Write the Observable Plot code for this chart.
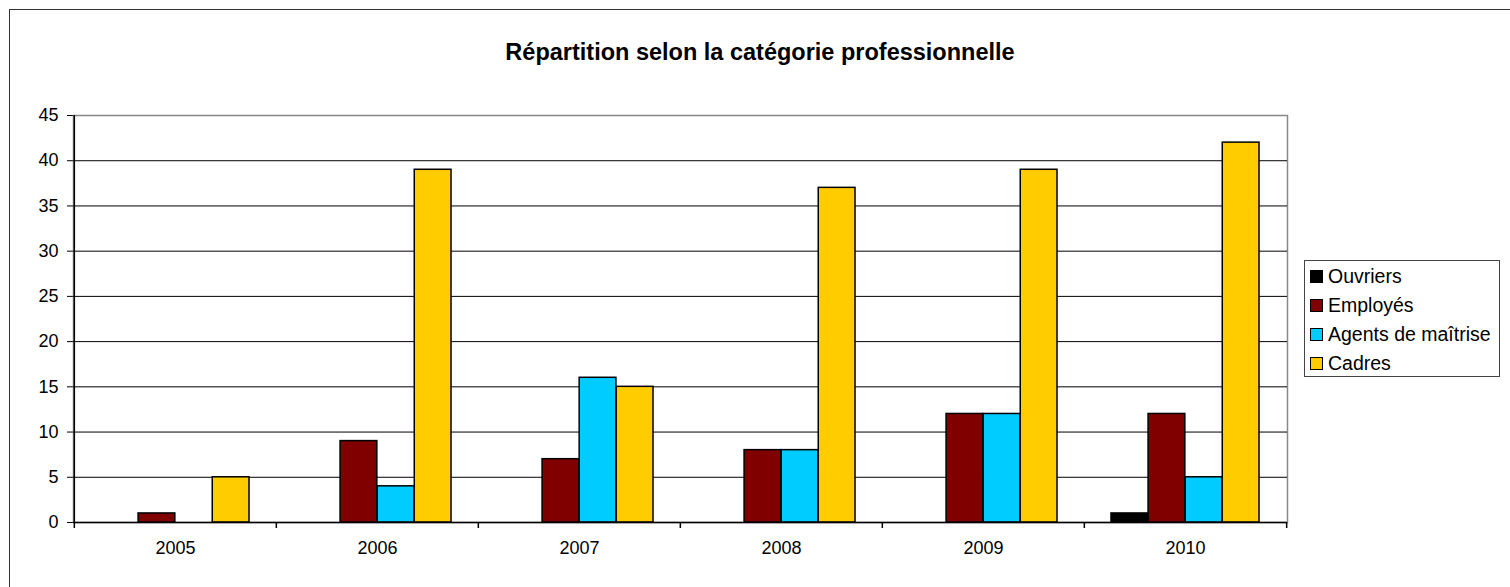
<!DOCTYPE html>
<html><head><meta charset="utf-8">
<script src="https://cdn.jsdelivr.net/npm/d3@7"></script>
<script src="https://cdn.jsdelivr.net/npm/@observablehq/plot@0.6"></script>
<style>
body{margin:0;background:#fff;font-family:"Liberation Sans",Arial,sans-serif;}
#wrap{position:relative;width:1510px;height:587px;overflow:hidden;background:#fff;}
#border{position:absolute;left:9px;top:9px;width:1600px;height:700px;border:1.5px solid #333;box-sizing:border-box;}
#title{position:absolute;left:10px;top:39px;width:1500px;text-align:center;font-weight:bold;font-size:23.5px;color:#000;}
#chart{position:absolute;left:0;top:0;}
#legend{position:absolute;left:1304px;top:260px;width:196px;height:117px;border:1px solid #444;box-sizing:border-box;padding-top:1px;}
.item{display:flex;align-items:center;height:29px;font-size:19.5px;color:#000;padding-left:5px;}
.sw{width:13px;height:13px;border:1.5px solid #000;margin-right:5px;box-sizing:border-box;}
</style></head>
<body>
<div id="wrap">
  <div id="border"></div>
  <div id="title"></div>
  <div id="chart"></div>
  <div id="legend"></div>
</div>
<script>
const titleText = "Répartition selon la catégorie professionnelle";
const years = ["2005","2006","2007","2008","2009","2010"];
const categories = ["Ouvriers","Employés","Agents de maîtrise","Cadres"];
const colors = ["#000000","#800000","#00CCFF","#FFCC00"];
const ouvriers = [0,0,0,0,0,1];
const employes = [1,9,7,8,12,12];
const agents   = [0,4,16,8,12,5];
const cadres   = [5,39,15,37,39,42];
const yTicks = [0,5,10,15,20,25,30,35,40,45];
const gridValues = [5,10,15,20,25,30,35,40];

const series = [ouvriers, employes, agents, cadres];
const table = years.flatMap((y,i)=>categories.map((c,j)=>({year:y, cat:c, value:series[j][i]})));

document.getElementById("title").textContent = titleText;

const W = 1510, H = 587, mL = 73, mR = 223, mT = 115, mB = 65;
const bw = (W - mL - mR) / years.length;
const outer = 0.1334;
const frac = (1 - 2*outer) / categories.length;

const barMarks = categories.map((c,j)=> Plot.barY(table.filter(d=>d.cat===c && d.value>0), {
  x: "year", y: "value", fill: colors[j], stroke: "#000", strokeWidth: 1.5,
  insetLeft: bw*(outer + j*frac), insetRight: bw*(1 - outer - (j+1)*frac)
}));

const plot = Plot.plot({
  width: W, height: H, marginLeft: mL, marginRight: mR, marginTop: mT, marginBottom: mB,
  style: {fontFamily: "'Liberation Sans', Arial, sans-serif", fontSize: "18px", color: "#000", background: "transparent", overflow: "visible"},
  x: {domain: years, padding: 0, tickSize: 0, tickPadding: 19, label: null},
  y: {domain: [0,45], ticks: yTicks, tickSize: 6, tickPadding: 9, label: null, line: true},
  marks: [
    Plot.frame({stroke: "#888", strokeWidth: 1.5}),
    Plot.ruleY(gridValues, {stroke: "#000", strokeWidth: 1}),
    ...barMarks,
    Plot.ruleY([0], {stroke: "#000", strokeWidth: 1.5}),
    Plot.ruleX(years, {x: d=>d, dx: -bw/2, y1: 0, y2: 0, insetBottom: -6, stroke: "#000", strokeWidth: 1.5}),
    Plot.ruleX(years.slice(-1), {x: d=>d, dx: bw/2, y1: 0, y2: 0, insetBottom: -6, stroke: "#000", strokeWidth: 1.5}),
    Plot.ruleX(years.slice(0,1), {x: d=>d, dx: -bw/2, stroke: "#000", strokeWidth: 1.5})
  ]
});
document.getElementById("chart").appendChild(plot);

const legend = d3.select("#legend");
categories.forEach((c,j)=>{
  const it = legend.append("div").attr("class","item");
  it.append("div").attr("class","sw").style("background", colors[j]);
  it.append("span").text(c);
});
</script>
</body></html>
